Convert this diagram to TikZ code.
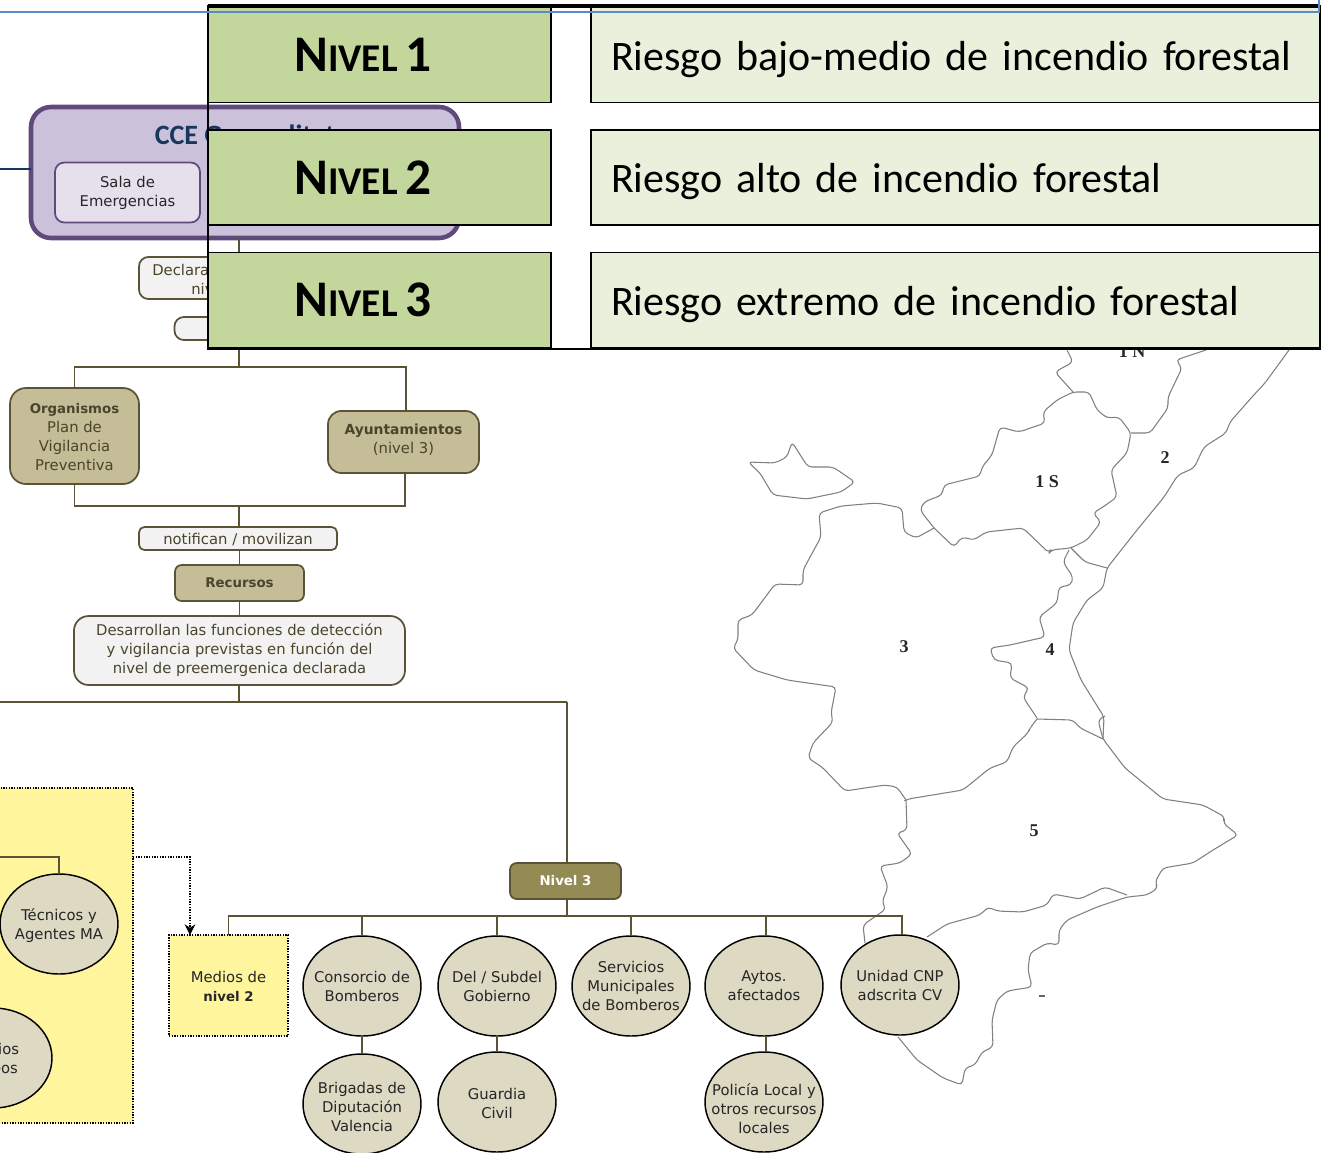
\documentclass[tikz,border=0pt]{standalone}
\usepackage{fontspec}
\setmainfont{DejaVu Sans}
\newfontfamily\carl{Carlito}
\newfontfamily\tim{Liberation Serif}
\usetikzlibrary{shapes.geometric,arrows.meta,decorations.pathmorphing}
\definecolor{lin}{HTML}{5B5335}
\definecolor{txt}{HTML}{4A452A}
\definecolor{khaki}{HTML}{C4BD97}
\definecolor{pale}{HTML}{F2F2F2}
\definecolor{ell}{HTML}{DDD9C3}
\definecolor{ylw}{HTML}{FFF59D}
\definecolor{purp}{HTML}{604A7B}
\definecolor{cceback}{HTML}{CCC1DA}
\definecolor{salaback}{HTML}{E6E0EC}
\definecolor{ccetxt}{HTML}{17375E}
\definecolor{olive}{HTML}{948A54}
\definecolor{bluel}{HTML}{5B8BC5}
\definecolor{lgreen}{HTML}{C3D69B}
\definecolor{pgreen}{HTML}{E9F1DC}
\tikzset{
  sz/.style 2 args={minimum width=#1*0.75pt,minimum height=#2*0.75pt,inner sep=0pt,outer sep=0pt},
  body/.style={align=center,font=\fontsize{11.1}{14.25}\selectfont},
  rbox/.style={draw=lin,line width=1.3pt,rounded corners=7pt,body,text=txt},
  palebox/.style={rbox,fill=pale},
  khakibox/.style={rbox,fill=khaki},
  oval/.style={ellipse,draw=black,line width=1.1pt,fill=ell,body,text=black!85},
  boxtext/.style={body,text=txt,inner sep=0pt},
  ovaltext/.style={body,text=black!85,inner sep=0pt},
  conn/.style={draw=lin,line width=1.1pt},
  maplin/.style={draw=black!50,line width=0.8pt,line join=round,rounded corners=3pt,decorate,decoration={random steps,segment length=3pt,amplitude=0.45pt}},
  mapnum/.style={font=\tim\bfseries\fontsize{13.5}{13.5}\selectfont,text=black!85,inner sep=0pt},
  lev/.style={draw=black,line width=1.4pt,fill=lgreen,sz={343}{95}},
  risk/.style={draw=black,line width=1.4pt,fill=pgreen,sz={729}{95},align=left,text width=516.75pt,
    text height=28.5pt,text depth=6pt,font=\carl\fontsize{31.5}{31.5}\selectfont},
  dots/.style={draw=black,line width=1pt,densely dotted},
  ovalsize/.style={sz={118}{100},inner sep=-15pt},
}
\newcommand{\bb}[1]{{\fontsize{10}{14.25}\selectfont\bfseries #1}}
\newcommand{\nivtxt}[1]{\hbox{\carl\bfseries\fontsize{38.5}{38}\selectfont N\fontsize{29.5}{30}\selectfont IVEL\hspace{6pt}\fontsize{38.5}{38}\selectfont #1\kern 24.8pt}}
\begin{document}
\begin{tikzpicture}[x=0.75pt,y=-0.75pt]
\useasboundingbox (0,0) rectangle (1332,1153);
% ---------- map ----------
\begin{scope}[maplin]
\draw (748,462)--(775,463)--(787,457)--(792,442)--(799,453)--(808,467)--(833,467)--(855,482)--(841,492)--(807,499)--(773,495)--(760,473)--cycle;
\draw (934,528)--(916,538)--(904,532)--(902,508)--(877,503)--(841,506)--(819,513)--(821,537)--(803,570)--(803,585)--(775,584)--(752,615)--(738,620)--(738,640)--(733,648)--(754,670)--(787,680)--(836,687)--(831,713)--(833,722)--(813,743)--(808,758)--(822,767)--(845,791)--(885,785)--(897,787)--(906,800);
\draw (906,800)--(908,799)--(963,790)--(990,768)--(1007,762)--(1013,747)--(1028,733)--(1030,728)--(1037,719);
\draw (1037,719)--(1073,720)--(1080,728)--(1103,739);
\draw (1105,716)--(1098,720)--(1103,739)--(1125,768)--(1163,799)--(1203,805)--(1225,817)--(1223,823)--(1238,835)--(1213,850)--(1193,863)--(1163,868)--(1155,882)--(1158,888)--(1147,895)--(1127,897)--(1097,907)--(1067,920)--(1059,930)--(1059,945)--(1047,943)--(1030,953)--(1028,970)--(1032,987)--(1007,991)--(997,1000)--(992,1020)--(993,1047)--(982,1052)--(975,1065)--(965,1068)--(962,1085)--(943,1078)--(917,1060)--(898,1037);
\draw (1127,895)--(1105,887)--(1080,899)--(1053,894)--(1047,905)--(1023,912)--(997,911)--(988,907)--(980,915)--(947,924)--(927,937);
\draw (906,800)--(907,830)--(897,833)--(912,854)--(900,863)--(880,866)--(888,887)--(882,902)--(886,909)--(863,925)--(865,943);
\draw (934,528)--(920,510)--(924,502)--(942,495)--(944,485)--(980,476)--(982,467)--(992,455)--(1000,427)--(1019,432)--(1045,423)--(1043,412)--(1057,400)--(1073,392)--(1089,392)--(1097,410)--(1107,418)--(1119,417)--(1131,433)--(1127,453)--(1111,470)--(1117,497)--(1103,507)--(1093,513)--(1101,522)--(1087,540)--(1071,548)--(1051,550)--(1049,553)--(1023,528)--(986,532)--(974,540)--(962,537)--(954,547)--cycle;
\draw (1073,392)--(1055,372)--(1073,362)--(1067,350);
\draw (1131,433)--(1150,433)--(1168,408)--(1168,397)--(1182,368)--(1176,360)--(1206,350);
\draw (1289,350)--(1265,383)--(1252,397)--(1230,422)--(1226,433)--(1204,447)--(1194,468)--(1178,475)--(1164,497)--(1137,530)--(1107,568)--(1103,588)--(1087,600)--(1073,623)--(1069,650)--(1081,680)--(1104,717)--(1103,739);
\draw (1071,548)--(1085,562)--(1107,568);
\draw (1069,550)--(1063,562)--(1073,577)--(1071,585)--(1059,587)--(1057,603)--(1039,617)--(1045,637)--(1010,645)--(990,648)--(994,660)--(1012,663)--(1010,678)--(1029,688)--(1023,697)--(1037,718);
\end{scope}
\draw[black!60,line width=0.9pt] (1039,996) -- (1045,996);
\node[mapnum] (m1n) at (1132,352) {1 N};
\node[mapnum] (m1s) at (1047,482) {1 S};
\node[mapnum] (m2) at (1165,458) {2};
\node[mapnum] (m3) at (904,647) {3};
\node[mapnum] (m4) at (1050,650) {4};
\node[mapnum] (m5) at (1034,831) {5};
% ---------- named free ends ----------
\coordinate (stub) at (0,169);
\coordinate (j1) at (239,367);
\coordinate (j2) at (239,506);
\coordinate (j3) at (239,702);
\coordinate (left3) at (0,702);
\coordinate (right3) at (567,702);
\coordinate (bar) at (567,916);
\coordinate (ybar) at (0,857);
\coordinate (elbow) at (190,857);
\coordinate (ayr) at (406,411);
\coordinate (ayb) at (405,473);
\coordinate (unt) at (902,935);
\coordinate (ayx) at (766,986);
% ---------- boxes ----------
\node[sz={428}{131},draw=purp,line width=3.4pt,fill=cceback,rounded corners=15pt] (cce) at (245,172.5) {};
\node[font=\carl\bfseries\fontsize{21}{21}\selectfont,text=ccetxt,inner sep=0pt,anchor=base] (ccet) at (245,144) {CCE Generalitat};
\node[sz={145}{60},draw=purp,line width=1.3pt,fill=salaback,rounded corners=7pt,body,text=black!85] (sala) at (127.5,192.5) {Sala de\\Emergencias};
\node[sz={200}{42},palebox] (decl) at (239,278) {};
\node[boxtext,anchor=west] (declA) at (152,270) {Declara};
\node[boxtext,anchor=west] (declB) at (191,289) {niv};
\node[sz={129}{23},palebox] (sub) at (239,328.5) {};
\node[sz={129}{96},khakibox,rounded corners=12pt] (org) at (74.5,436) {};
\node[boxtext] (orgt) at (74.5,437.5) {\bb{Organismos}\\Plan de\\Vigilancia\\Preventiva};
\node[sz={151}{62},khakibox,rounded corners=10pt] (ayu) at (403.5,442) {};
\node[boxtext] (ayut) at (403.5,440) {{\fontsize{10.4}{14.25}\selectfont\bfseries Ayuntamientos}\\(nivel 3)};
\node[sz={198}{23},palebox,rounded corners=4pt] (not) at (238,538.5) {};
\node[boxtext] (nott) at (238,539.5) {notifican / movilizan};
\node[sz={129}{36},khakibox,rounded corners=5pt] (rec) at (239.5,583) {\bb{Recursos}};
\node[sz={331}{69},palebox,rounded corners=11pt] (des) at (239.5,650.5) {Desarrollan las funciones de detección\\y vigilancia previstas en función del\\nivel de preemergenica declarada};
\node[sz={111}{36},draw=lin,line width=1.3pt,fill=olive,rounded corners=5pt,body,text=white] (n3) at (565.5,881) {\bb{Nivel 3}};
% yellow
\node[sz={190}{335},dots,fill=ylw] (yel) at (38,955.5) {};
\node[sz={119}{101},dots,fill=ylw] (med) at (228.5,985.5) {};
\node[ovaltext] (medt) at (228.5,986.5) {Medios de\\\bb{nivel 2}};
% ellipses
\node[oval,ovalsize] (tec) at (59,924) {};
\node[ovaltext] (tect) at (59,925.5) {Técnicos y\\Agentes MA};
\node[oval,ovalsize] (mea) at (-7,1058) {Medios\\aéreos};
\node[oval,ovalsize] (con) at (362,986) {Consorcio de\\Bomberos};
\node[oval,ovalsize] (del) at (497,986) {Del / Subdel\\Gobierno};
\node[oval,ovalsize] (ser) at (631,986) {Servicios\\Municipales\\de Bomberos};
\node[oval,ovalsize] (ayt) at (764,986) {Aytos.\\afectados};
\node[oval,ovalsize] (uni) at (900,985) {Unidad CNP\\adscrita CV};
\node[oval,ovalsize] (bri) at (362,1104) {};
\node[ovaltext] (brit) at (362,1107) {Brigadas de\\Diputación\\Valencia};
\node[oval,ovalsize] (gua) at (497,1102) {};
\node[ovaltext] (guat) at (497,1103.5) {Guardia\\Civil};
\node[oval,ovalsize] (pol) at (764,1102) {};
\node[ovaltext] (polt) at (764,1109) {Policía Local y\\otros recursos\\locales};
% ---------- connectors ----------
\draw[draw=ccetxt,line width=0.8pt] (stub) -- (stub -| cce.west);
\begin{scope}[conn]
\draw (cce.south -| j1) -- (decl.north);
\draw (decl.south) -- (sub.north);
\draw (sub.south) -- (j1);
\draw (org.north) |- (j1);
\draw (j1) -| (ayr);
\draw (org.south) |- (j2);
\draw (j2) -| (ayb);
\draw (j2) -- (not.north -| j2);
\draw (not.south -| rec.south) -- (rec.north);
\draw (rec.south) -- (des.north);
\draw (des.south -| j3) -- (j3);
\draw (left3) -- (right3);
\draw (right3) -- (n3.north -| right3);
\draw (n3.south -| bar) -- (bar);
\draw (med.north) |- (bar);
\draw (bar) -| (unt);
\draw (bar -| con.north) -- (con.north);
\draw (bar -| del.north) -- (del.north);
\draw (bar -| ser.north) -- (ser.north);
\draw (bar -| ayx) -- (ayx |- ayt.north);
\draw (con.south) -- (bri.north);
\draw (del.south) -- (gua.north);
\draw (ayx |- ayt.south) -- (ayx |- pol.north);
\draw (ybar) -| (tec.north);
\end{scope}
\draw[dots,-{Stealth[length=8pt,width=8pt]}] (yel.east |- elbow) -- (elbow) -- (elbow |- med.north);
% ---------- level table ----------
\node[sz={1112}{343},draw=black,line width=1.2pt] (tab) at (764,177.5) {};
\draw[black,line width=2.4pt] (tab.north west) -- (tab.north east);
\draw[black,line width=2pt] (tab.south west) -- (tab.south east);
\node[lev] (l1) at (379.5,55) {\nivtxt{1}};
\node[lev] (l2) at (379.5,177.5) {\nivtxt{2}};
\node[lev] (l3) at (379.5,300) {\nivtxt{3}};
\node[risk] (r1) at (955.5,55) {Riesgo bajo-medio de incendio forestal};
\node[risk] (r2) at (955.5,177.5) {Riesgo alto de incendio forestal};
\node[risk] (r3) at (955.5,300) {Riesgo extremo de incendio forestal};
\coordinate (bl) at (0,12);
\coordinate (br) at (1319,12);
\coordinate (bt) at (1319,0);
\draw[draw=bluel,line width=1.1pt] (bl) -- (br) -- (bt);
\end{tikzpicture}
\end{document}
